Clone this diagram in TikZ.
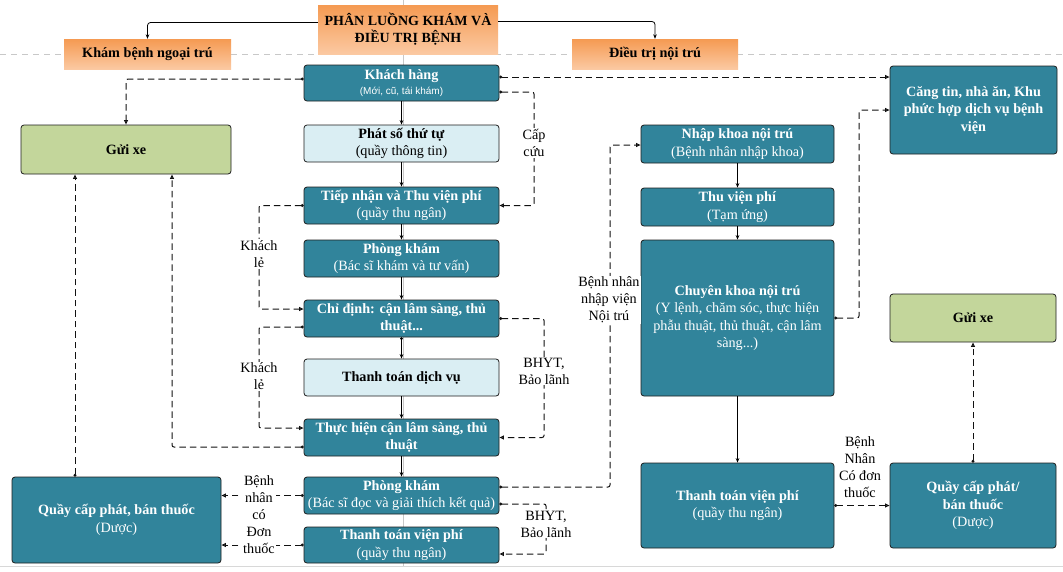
\documentclass[tikz,border=0pt]{standalone}
\usepackage{fontspec}
\setmainfont{Liberation Serif}
\newfontfamily\sansf{Liberation Sans}
\usetikzlibrary{arrows.meta}
\definecolor{tealc}{HTML}{31849B}
\definecolor{lbluec}{HTML}{DAEEF3}
\definecolor{greenc}{HTML}{C3D69B}
\definecolor{orT}{HTML}{F59A52}
\definecolor{orB}{HTML}{FBC9A2}
\definecolor{boxline}{HTML}{1E1E1E}
\definecolor{dashc}{HTML}{111111}
\definecolor{gridc}{HTML}{C8C8C8}
\tikzset{
  basebox/.style={draw=boxline, line width=0.8pt, rounded corners=3pt, align=center, inner sep=0pt, font=\fontsize{14.2}{17.5}\selectfont},
  tealbox/.style={basebox, fill=tealc, text=white},
  bluebox/.style={basebox, fill=lbluec, text=black},
  greenbox/.style={basebox, fill=greenc, text=black},
  orangebox/.style={top color=orT, bottom color=orB, draw=none, align=center, inner sep=0pt, font=\fontsize{14}{17}\selectfont\bfseries},
  sarrow/.style={draw=black, line width=0.8pt, rounded corners=3pt, -{Stealth[length=4.5pt,width=3.6pt]}},
  darrow/.style={draw=dashc, line width=1pt, dash pattern=on 6.5pt off 4pt, rounded corners=2pt, {Circle[length=2.8pt]}-{Triangle[open,length=4.5pt,width=4pt]}},
  lbl/.style={fill=white, inner sep=1pt, align=center, font=\fontsize{14.2}{17}\selectfont},
}
\begin{document}
\begin{tikzpicture}[x=1pt,y=-1pt]
\useasboundingbox[fill=white] (0,0) rectangle (1063,571);
% background guide lines
\draw[gridc, line width=0.8pt] (403,0) -- (403,566);
\draw[gridc, line width=0.8pt, dash pattern=on 6pt off 5pt] (0,54) -- (1063,54);
\draw[gridc!70, line width=0.8pt] (0,566) -- (1063,566);

% header boxes
\node[orangebox, minimum width=180pt, minimum height=49pt] (title) at (408,29.5) {PHÂN LUỒNG KHÁM VÀ\\ĐIỀU TRỊ BỆNH};
\node[orangebox, minimum width=167pt, minimum height=30pt, font=\fontsize{14.2}{17}\selectfont\bfseries] (kham) at (147.5,54) {Khám bệnh ngoại trú};
\node[orangebox, minimum width=166pt, minimum height=30pt, font=\fontsize{14.2}{17}\selectfont\bfseries] (noitru) at (655,54) {Điều trị nội trú};

% center column
\node[tealbox, minimum width=195pt, minimum height=36pt] (kh) at (401.5,83) {\textbf{Khách hàng}\\[-3pt]{\sansf\fontsize{10}{12}\selectfont (Mới, cũ, tái khám)}};
\node[bluebox, minimum width=195pt, minimum height=37pt] (phat) at (401.5,143.5) {\textbf{Phát số thứ tự}\\(quầy thông tin)};
\node[tealbox, minimum width=195pt, minimum height=37pt] (tiep) at (401.5,205.5) {\textbf{Tiếp nhận và Thu viện phí}\\(quầy thu ngân)};
\node[tealbox, minimum width=195pt, minimum height=37pt] (pk1) at (401.5,258.5) {\textbf{Phòng khám}\\(Bác sĩ khám và tư vấn)};
\node[tealbox, minimum width=195pt, minimum height=37pt] (chi) at (401.5,318.5) {\textbf{Chỉ định: cận lâm sàng, thủ}\\\textbf{thuật...}};
\node[bluebox, minimum width=195pt, minimum height=37pt] (ttdv) at (401.5,377.5) {\textbf{Thanh toán dịch vụ}};
\node[tealbox, minimum width=195pt, minimum height=37pt] (th) at (401.5,437.5) {\textbf{Thực hiện cận lâm sàng, thủ}\\\textbf{thuật}};
\node[tealbox, minimum width=195pt, minimum height=37pt] (pk2) at (401.5,495.5) {\textbf{Phòng khám}\\(Bác sĩ đọc và giải thích kết quả)};
\node[tealbox, minimum width=195pt, minimum height=36pt] (ttvp) at (401.5,545) {\textbf{Thanh toán viện phí}\\(quầy thu ngân)};

% left column
\node[greenbox, minimum width=210pt, minimum height=49pt] (gx1) at (126,149.5) {\textbf{Gửi xe}};
\node[tealbox, minimum width=209pt, minimum height=86pt] (quay1) at (116.5,520) {\textbf{Quầy cấp phát, bán thuốc}\\(Dược)};

% right columns
\node[tealbox, minimum width=193pt, minimum height=38pt] (nk) at (737.5,144) {\textbf{Nhập khoa nội trú}\\(Bệnh nhân nhập khoa)};
\node[tealbox, minimum width=193pt, minimum height=38pt] (tvp) at (737.5,207) {\textbf{Thu viện phí}\\(Tạm ứng)};
\node[tealbox, minimum width=193pt, minimum height=156pt] (ck) at (737.5,318) {\textbf{Chuyên khoa nội trú}\\(Y lệnh, chăm sóc, thực hiện\\phẫu thuật, thủ thuật, cận lâm\\sàng...)};
\node[tealbox, minimum width=193pt, minimum height=85pt] (ttvp2) at (737.5,505.5) {\textbf{Thanh toán viện phí}\\(quầy thu ngân)};
\node[tealbox, minimum width=167pt, minimum height=88pt] (ct) at (973.5,110) {\textbf{Căng tin, nhà ăn, Khu}\\\textbf{phức hợp dịch vụ bệnh}\\\textbf{viện}};
\node[greenbox, minimum width=166pt, minimum height=48pt] (gx2) at (973,318) {\textbf{Gửi xe}};
\node[tealbox, minimum width=166pt, minimum height=85pt] (quay2) at (973,505.5) {\textbf{Quầy cấp phát/}\\\textbf{bán thuốc}\\(Dược)};

% header connectors
\draw[sarrow] ([yshift=7pt]title.west) -| (kham.north);
\draw[sarrow] ([yshift=8pt]title.east) -| (noitru.north);

% solid flow
\draw[sarrow] (kh) -- (phat);
\draw[sarrow] (phat) -- (tiep);
\draw[sarrow] (tiep) -- (pk1);
\draw[sarrow] (pk1) -- (chi);
\draw[sarrow, {Circle[length=2.6pt]}-{Stealth[length=4.5pt,width=3.6pt]}] (chi) -- (ttdv);
\draw[sarrow] (ttdv) -- (th);
\draw[sarrow] (th) -- (pk2);
\draw[sarrow] (nk) -- (tvp);
\draw[sarrow] (tvp) -- (ck);
\draw[sarrow] (ck) -- (ttvp2);

% dashed connectors
\coordinate (k1) at ([yshift=6pt]kh.east);
\coordinate (k2) at ([yshift=-9pt]kh.east);
\coordinate (k3) at ([yshift=4pt]kh.west);
\draw[darrow] (k3) -| (gx1.north);
\draw[darrow] (k1) -- (k1 -| ct.west);
\draw[darrow] (k2) -- (534,92) -- (534,205.5) -- (tiep.east);
\draw[darrow] (tiep.west) -- (259,205.5) -- (259,309) -- ([yshift=9.5pt]chi.west);
\draw[darrow] ([yshift=-8.5pt]chi.west) -- (259,327) -- (259,428) -- ([yshift=9.5pt]th.west);
\draw[darrow] ([yshift=-9.5pt]th.west) -| ([xshift=46pt]gx1.south);
\coordinate (q1) at ([xshift=-41.5pt]quay1.north);
\draw[darrow] (q1) -- (q1 |- gx1.south);
\draw[darrow] (chi.east) -- (544,318.5) -- (544,437.5) -- (th.east);
\draw[darrow] (pk2.west) -- (pk2.west -| quay1.east);
\draw[darrow] (ttvp.west) -- (ttvp.west -| quay1.east);
\draw[darrow] ([yshift=-8.5pt]pk2.east) -- (546,504) -- (546,554) -- ([yshift=-9pt]ttvp.east);
\draw[darrow] ([yshift=8.5pt]pk2.east) -- (610,487) -- (610,145) -- ([yshift=-1pt]nk.west);
\draw[darrow] (ck.east) -- (859,318) -- (859,110) -- (ct.west);
\draw[darrow] (ttvp2.east) -- (quay2.west);
\draw[darrow] (quay2.north) -- (gx2.south);

% labels
\node[lbl] (lcap) at (534,143) {Cấp\\cứu};
\node[lbl] (lkl1) at (259,254) {Khách\\lẻ};
\node[lbl] (lkl2) at (259,376) {Khách\\lẻ};
\node[lbl] (lbh1) at (544,371) {BHYT,\\Bảo lãnh};
\node[lbl] (lbh2) at (546,524) {BHYT,\\Bảo lãnh};
\node[lbl] (ldon) at (259,514.5) {Bệnh\\nhân\\có\\Đơn\\thuốc};
\node[lbl] (lnv) at (609,300) {Bệnh nhân\\nhập viện\\Nội trú};
\node[lbl] (ldon2) at (860,467.5) {Bệnh\\Nhân\\Có đơn\\thuốc};
\end{tikzpicture}
\end{document}
